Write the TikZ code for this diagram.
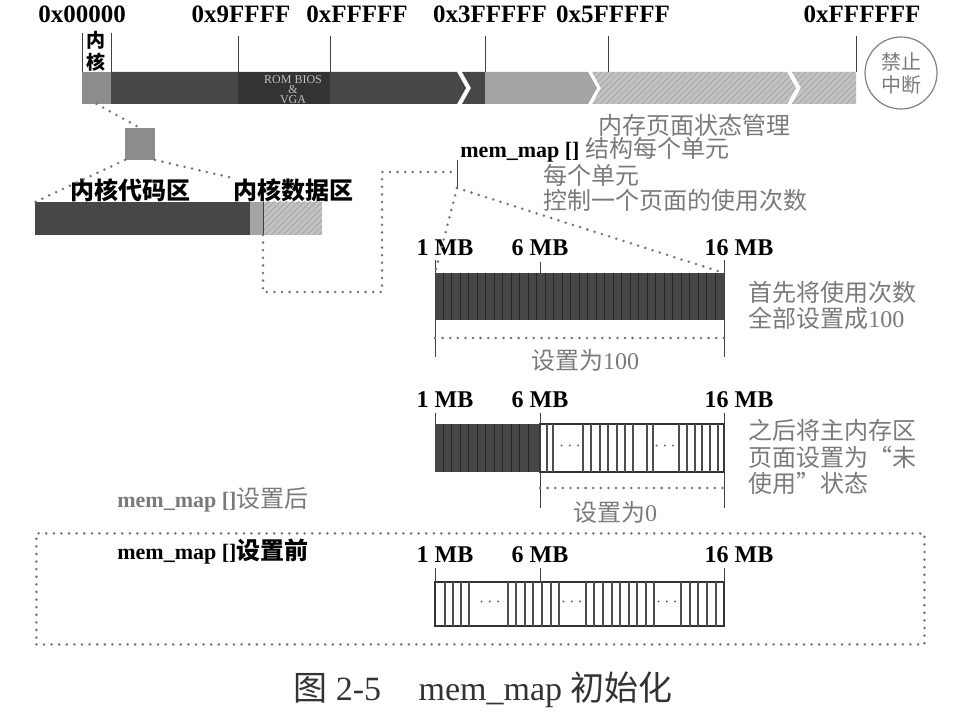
\documentclass[tikz,border=0pt]{standalone}
\usepackage{fontspec}
\setmainfont{Liberation Serif}
\newfontfamily\cjk{Noto Sans CJK SC}
\newcommand{\zh}[1]{{\cjk #1}}
\usetikzlibrary{patterns}

\definecolor{darkbar}{HTML}{474747}
\definecolor{midbar}{HTML}{8C8C8C}
\definecolor{lightbar}{HTML}{A4A4A4}
\definecolor{hatchbar}{HTML}{C2C2C2}
\definecolor{notegray}{HTML}{7A7A7A}

\tikzset{
  hexlab/.style={font=\bfseries\fontsize{12.5}{14}\selectfont,inner sep=0},
  mblab/.style={font=\bfseries\fontsize{12}{14}\selectfont,inner sep=0},
  graynote/.style={font=\fontsize{12}{13}\selectfont,text=notegray,inner sep=0,anchor=west},
  ruler/.style={draw=black!75,line width=0.5pt},
  dotline/.style={draw=black!55,line width=1.4pt,dash pattern=on 0pt off 3.8pt,line cap=round},
  block/.style={inner sep=0,outer sep=0},
  hatchfill/.style={fill=hatchbar,postaction={pattern=north east lines,pattern color=black!35}},
  page/.style={draw=black!70,line width=0.6pt},
  pagedots/.style={font=\fontsize{9}{9}\selectfont,text=black!65,inner sep=0}
}

\begin{document}
\begin{tikzpicture}[x=0.5pt,y=-0.5pt]
\useasboundingbox (0,0) rectangle (973,716);

% whole physical memory
\node[hexlab] (a0) at (82,14) {0x00000};
\node[hexlab] (a1) at (241,14) {0x9FFFF};
\node[hexlab] (a2) at (357,14) {0xFFFFF};
\node[hexlab] (a3) at (490,14) {0x3FFFFF};
\node[hexlab] (a4) at (613,14) {0x5FFFFF};
\node[hexlab] (a5) at (862,14) {0xFFFFFF};

\node[block,fill=midbar,minimum width=14.5pt,minimum height=16pt] (kseg) at (96.5,88) {};
\fill[darkbar] (111,72) -- (457,72) -- (466,88) -- (457,104) -- (111,104) -- cycle;
\fill[black!80] (238,72) rectangle (330,104);
\fill[darkbar] (462,72) -- (485,72) -- (485,104) -- (462,104) -- (471,88) -- cycle;
\fill[lightbar] (485,72) -- (588,72) -- (597,88) -- (588,104) -- (485,104) -- cycle;
\path[hatchfill] (592,72) -- (787,72) -- (796,88) -- (787,104) -- (592,104) -- (601,88) -- cycle;
\path[hatchfill] (792,72) -- (856,72) -- (856,104) -- (792,104) -- (801,88) -- cycle;

\foreach \x in {82,111}
  \draw[ruler] (\x,33) -- (\x,72);
\foreach \x in {238,330,485,608,856}
  \draw[ruler] (\x,36) -- (\x,72);

\node[font=\bfseries\fontsize{9.5}{11}\selectfont,inner sep=0,align=center] (klab) at (96,51) {\zh{内}\\\zh{核}};
\node[font=\fontsize{6}{5}\selectfont,text=black!25,inner sep=0,align=center] (rom) at (293,90) {ROM BIOS\\\&\\VGA};
\node[circle,draw=black!50,line width=0.6pt,minimum size=36pt,inner sep=0,
  font=\fontsize{10}{11.5}\selectfont,text=notegray,align=center] (cli) at (901,73) {\zh{禁止}\\\zh{中断}};

% kernel
\node[block,fill=midbar,minimum width=15pt,minimum height=16pt] (ksq) at (140,144) {};
\node[block,fill=darkbar,minimum width=107.5pt,minimum height=16.5pt] (cbar) at (142.5,218.5) {};
\node[block,fill=lightbar,minimum width=36pt,minimum height=16.5pt] (dbar) at (286,218.5) {};
\path[hatchfill] (263,202) rectangle (dbar.south east);
\draw[ruler] (263,202) -- (263,235);
\coordinate (ddiv) at (263,235);
\node[font=\bfseries\fontsize{12}{14}\selectfont,inner sep=0] (clab) at (130,190) {\zh{内核代码区}};
\node[font=\bfseries\fontsize{12}{14}\selectfont,inner sep=0] (dlab) at (293,190) {\zh{内核数据区}};

\draw[dotline] (kseg.south) -- (ksq.north);
\draw[dotline] (ksq.south west) -- (cbar.north west);
\draw[dotline] (ksq.south east) -- (dlab.north west);

% mem_map
\node[anchor=west,inner sep=0,font=\fontsize{12}{14}\selectfont] (mmlab) at (460,150)
  {{\bfseries\fontsize{11}{13}\selectfont mem\_map []}\ \textcolor{notegray}{\zh{结构每个单元}}};
\node[graynote] (n1) at (598,125) {\zh{内存页面状态管理}};
\node[graynote] (n2) at (543,175) {\zh{每个单元}};
\node[graynote] (n3) at (543,200) {\zh{控制一个页面的使用次数}};
\draw[ruler] (457,160) -- (457,188);
\coordinate (mmmid) at (457,172);
\coordinate (mmbot) at (457,188);
\draw[dotline] (ddiv) -- (263,292) -- (382,292) |- (mmmid);

% first: all pages set to 100
\node[mblab] (b1s) at (445,248) {1 MB};
\node[mblab] (b1m) at (540,248) {6 MB};
\node[mblab] (b1e) at (739,248) {16 MB};
\node[block,fill=darkbar,minimum width=144.5pt,minimum height=23.5pt,anchor=north west] (bar1) at (435,273) {};
\foreach \x in {443,451.5,...,716}
  \draw[black!85,line width=0.5pt] (\x,273) -- (\x,320);
\draw[ruler] (435,260) -- (435,357);
\draw[ruler] (540,262) -- (540,273);
\draw[ruler] (724,260) -- (724,357);
\draw[dotline] (mmbot) -- (bar1.north west);
\draw[dotline] (mmbot) -- (bar1.north east);
\draw[dotline] (435,338) -- (724,338);
\node[graynote,anchor=center] (set1) at (585,360) {\zh{设置为}100};
\node[graynote] (n4) at (748,292) {\zh{首先将使用次数}};
\node[graynote] (n5) at (748,318) {\zh{全部设置成}100};

% then main memory pages set to 0
\node[mblab] (b2s) at (445,400) {1 MB};
\node[mblab] (b2m) at (540,400) {6 MB};
\node[mblab] (b2e) at (739,400) {16 MB};
\node[block,fill=darkbar,minimum width=52.5pt,minimum height=24pt,anchor=north west] (bar2a) at (435,424) {};
\foreach \x in {443,451.5,...,532}
  \draw[black!85,line width=0.5pt] (\x,424) -- (\x,472);
\node[block,draw=black!80,line width=0.8pt,minimum width=92pt,minimum height=24pt,anchor=north west] (bar2b) at (540,424) {};
\foreach \x in {547,553,583,591,600,608,617,625,633,647,653,679,687,695,702,710,718}
  \draw[page] (\x,424) -- (\x,472);
\node[pagedots] (d21) at (570,446) {$\cdots$};
\node[pagedots] (d22) at (665,446) {$\cdots$};
\draw[ruler] (435,413) -- (435,424);
\draw[ruler] (540,413) -- (540,508);
\draw[ruler] (724,413) -- (724,508);
\draw[dotline] (540,488) -- (724,488);
\node[graynote,anchor=center] (set0) at (615,512) {\zh{设置为}0};
\node[graynote] (n6) at (748,430) {\zh{之后将主内存区}};
\node[graynote] (n7) at (748,457) {\zh{页面设置为“未}};
\node[graynote] (n8) at (748,483) {\zh{使用”状态}};

\node[anchor=west,inner sep=0,font=\fontsize{12}{14}\selectfont,text=notegray] (after) at (117,500)
  {{\bfseries\fontsize{11}{13}\selectfont mem\_map []}\zh{设置后}};

% before
\node[dotline,minimum width=444pt,minimum height=55.5pt,anchor=north west,inner sep=0] (before) at (35,532) {};
\node[anchor=west,inner sep=0,font=\bfseries\fontsize{12}{14}\selectfont] (blab) at (117,552)
  {{\fontsize{11}{13}\selectfont mem\_map []}\zh{设置前}};
\node[mblab] (b3s) at (445,555) {1 MB};
\node[mblab] (b3m) at (540,555) {6 MB};
\node[mblab] (b3e) at (739,555) {16 MB};
\node[block,draw=black!80,line width=0.8pt,minimum width=144.5pt,minimum height=22pt,anchor=north west] (bar3) at (435,582) {};
\foreach \x in {445,453,461,469,508,516,525,533,542,551,559,586,594,603,612,620,629,637,646,654,681,690,698,707,716}
  \draw[page] (\x,582) -- (\x,626);
\node[pagedots] (d31) at (490,602) {$\cdots$};
\node[pagedots] (d32) at (572,602) {$\cdots$};
\node[pagedots] (d33) at (667,602) {$\cdots$};
\draw[ruler] (435,568) -- (435,582);
\draw[ruler] (540,568) -- (540,582);
\draw[ruler] (724,568) -- (724,582);

\node[font=\fontsize{17}{19}\selectfont,text=black!80,inner sep=0] (cap) at (483,690)
  {\zh{图} 2-5\hspace{1.1em}mem\_map \zh{初始化}};
\end{tikzpicture}
\end{document}
